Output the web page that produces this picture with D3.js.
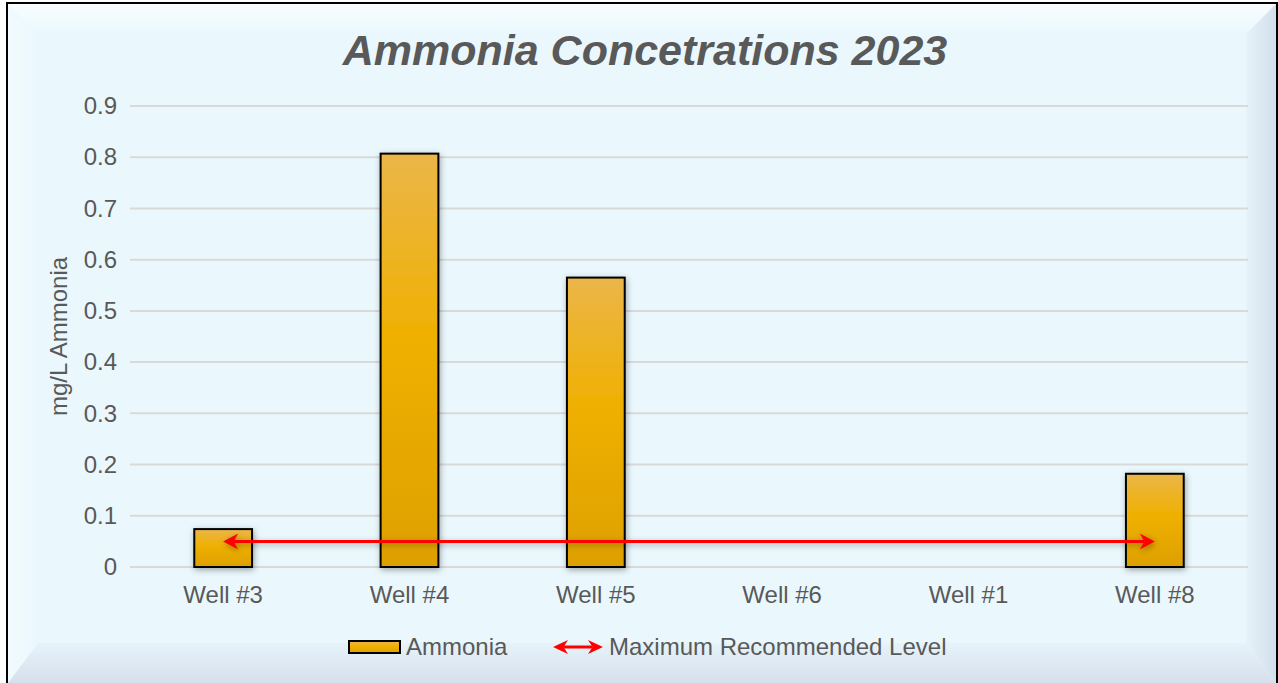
<!DOCTYPE html>
<html><head><meta charset="utf-8">
<script src="https://cdn.jsdelivr.net/npm/d3@7"></script>
<style>html,body{margin:0;padding:0;background:#fff;}svg{display:block;font-family:"Liberation Sans",Arial,sans-serif;}</style>
</head><body><svg id="chart" width="1278" height="683"></svg>
<script>
const categories = ["Well #3","Well #4","Well #5","Well #6","Well #1","Well #8"];
const ammonia = [0.074, 0.807, 0.565, 0, 0, 0.182];
const maxLevel = 0.05;
const yTicks = [0,0.1,0.2,0.3,0.4,0.5,0.6,0.7,0.8,0.9];
const title = "Ammonia Concetrations 2023";
const yTitle = "mg/L Ammonia";
const seriesNames = ["Ammonia","Maximum Recommended Level"];

const W = 1278, H = 683;
const FS = 24;
const svg = d3.select("#chart");
const defs = svg.append("defs");

function lg(id, x1,y1,x2,y2, stops){
  const g = defs.append("linearGradient").attr("id",id).attr("x1",x1).attr("y1",y1).attr("x2",x2).attr("y2",y2);
  stops.forEach(s=>g.append("stop").attr("offset",s[0]).attr("stop-color",s[1]));
}
lg("barGrad",0,0,0,1,[[0,"#EBB649"],[0.45,"#EFB000"],[1,"#DDA000"]]);
lg("topBev",0,0,0,1,[[0,"#F8FDFF"],[1,"#EAF8FD"]]);
lg("leftBev",0,0,1,0,[[0,"#F2FBFE"],[1,"#EAF8FD"]]);
lg("rightBev",0,0,1,0,[[0,"#E6F3FA"],[1,"#D3DEEA"]]);
lg("botBev",0,0,0,1,[[0,"#E6F3FA"],[1,"#D6E0EC"]]);
const f = defs.append("filter").attr("id","shadow").attr("x","-30%").attr("y","-30%").attr("width","160%").attr("height","160%");
f.append("feDropShadow").attr("dx",1).attr("dy",2).attr("stdDeviation",3).attr("flood-color","#000").attr("flood-opacity",0.35);

const L=8, T=4, R=1276, B=683, bw=30, bb=40;
svg.append("rect").attr("x",L).attr("y",T).attr("width",R-L).attr("height",B-T).attr("fill","#EAF8FD");
svg.append("polygon").attr("points",`${L},${T} ${R},${T} ${R-bw},${T+bw} ${L+bw},${T+bw}`).attr("fill","url(#topBev)");
svg.append("polygon").attr("points",`${L},${T} ${L+bw},${T+bw} ${L+bw},${B-bb} ${L},${B}`).attr("fill","url(#leftBev)");
svg.append("polygon").attr("points",`${R},${T} ${R},${B} ${R-bw},${B-bb} ${R-bw},${T+bw}`).attr("fill","url(#rightBev)");
svg.append("polygon").attr("points",`${L},${B} ${L+bw},${B-bb} ${R-bw},${B-bb} ${R},${B}`).attr("fill","url(#botBev)");
svg.append("rect").attr("x",L-1).attr("y",T-1).attr("width",R-L+2).attr("height",B-T+10).attr("fill","none").attr("stroke","#000").attr("stroke-width",2);

const x = d3.scaleBand().domain(categories).range([130,1248]).paddingInner(0.69).paddingOuter(0.345);
const y = d3.scaleLinear().domain([0,0.9]).range([567,106]);

svg.append("text").attr("x",645).attr("y",65).attr("text-anchor","middle")
  .attr("font-size",43).attr("font-weight","bold").attr("font-style","italic").attr("fill","#595959").text(title);

svg.append("g").selectAll("line").data(yTicks).join("line")
  .attr("x1",130).attr("x2",1248).attr("y1",d=>y(d)).attr("y2",d=>y(d))
  .attr("stroke","#D9D9D9").attr("stroke-width",2);

const yAxis = svg.append("g").attr("transform","translate(117,0)")
  .call(d3.axisLeft(y).tickValues(yTicks).tickSize(0).tickPadding(0).tickFormat(d=>d===0?"0":d3.format(".1f")(d)));
yAxis.select(".domain").remove();
yAxis.selectAll("text").attr("font-size",FS).attr("fill","#595959").attr("font-family","Liberation Sans, Arial, sans-serif");

const xAxis = svg.append("g").attr("transform","translate(0,567)")
  .call(d3.axisBottom(x).tickSize(0).tickPadding(19));
xAxis.select(".domain").remove();
xAxis.selectAll("text").attr("font-size",FS).attr("fill","#595959").attr("font-family","Liberation Sans, Arial, sans-serif");

svg.append("text").attr("transform",`translate(67,${(106+567)/2}) rotate(-90)`).attr("text-anchor","middle")
  .attr("font-size",FS).attr("fill","#595959").text(yTitle);

svg.append("g").selectAll("rect").data(categories.map((c,i)=>({c,v:ammonia[i]})).filter(d=>d.v>0)).join("rect")
  .attr("x",d=>x(d.c)).attr("y",d=>y(d.v)).attr("width",x.bandwidth()).attr("height",d=>y(0)-y(d.v))
  .attr("fill","url(#barGrad)").attr("stroke","#000").attr("stroke-width",2).attr("filter","url(#shadow)");

function dblArrow(g, x1, x2, yy, head, hw, sw){
  g.append("line").attr("x1",x1+head*0.7).attr("x2",x2-head*0.7).attr("y1",yy).attr("y2",yy).attr("stroke","#FF0000").attr("stroke-width",sw);
  g.append("path").attr("d",`M${x1},${yy} L${x1+head},${yy-hw} L${x1+head*0.7},${yy} L${x1+head},${yy+hw} Z`).attr("fill","#FF0000");
  g.append("path").attr("d",`M${x2},${yy} L${x2-head},${yy-hw} L${x2-head*0.7},${yy} L${x2-head},${yy+hw} Z`).attr("fill","#FF0000");
}
const cx0 = x(categories[0])+x.bandwidth()/2, cx1 = x(categories[categories.length-1])+x.bandwidth()/2;
const ag = svg.append("g").attr("filter","url(#shadow)");
dblArrow(ag, cx0, cx1, y(maxLevel), 15, 8, 3);

const ly = 647;
svg.append("rect").attr("x",349).attr("y",ly-6).attr("width",51).attr("height",12)
  .attr("fill","url(#barGrad)").attr("stroke","#000").attr("stroke-width",2);
svg.append("text").attr("x",406).attr("y",ly).attr("dy","0.35em").attr("font-size",FS).attr("fill","#595959").text(seriesNames[0]);
dblArrow(svg.append("g"), 553, 603, ly, 15, 7, 3);
svg.append("text").attr("x",609).attr("y",ly).attr("dy","0.35em").attr("font-size",FS).attr("fill","#595959").text(seriesNames[1]);
</script></body></html>
